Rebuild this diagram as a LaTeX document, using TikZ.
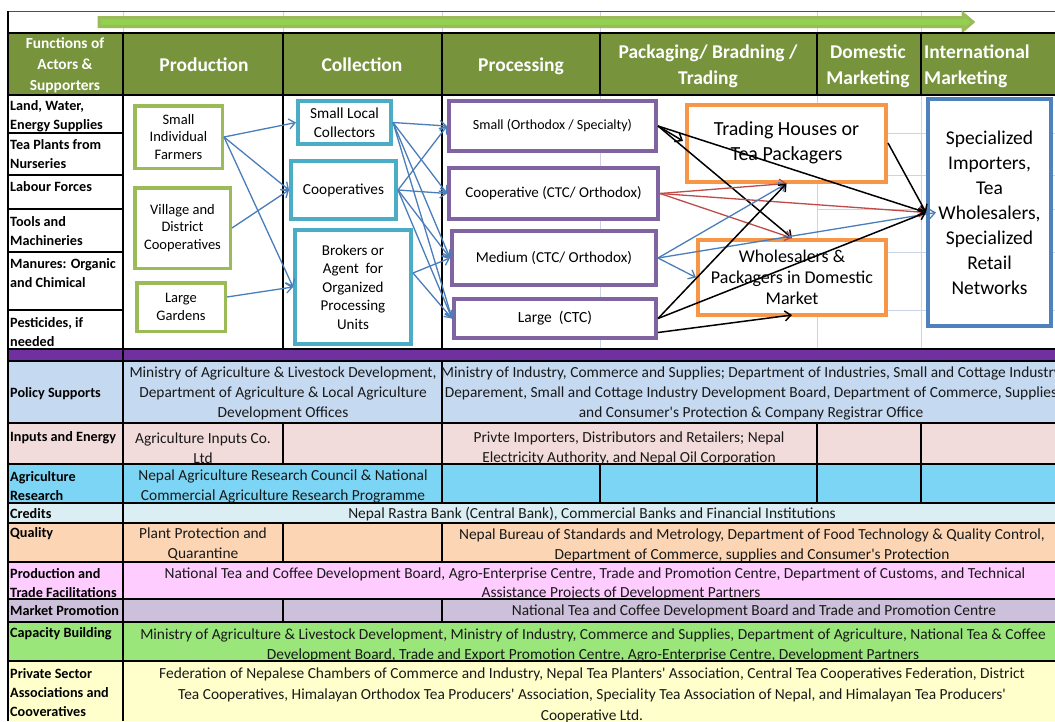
\documentclass[tikz,border=0pt]{standalone}
\usepackage{fontspec}
\setmainfont{Carlito}[Ligatures=TeXOff]
\usetikzlibrary{arrows.meta,calc}

\definecolor{hdrgreen}{HTML}{77933C}
\definecolor{barout}{HTML}{9BBB59}
\definecolor{barin}{HTML}{92D050}
\definecolor{prodg}{HTML}{9BBB59}
\definecolor{collt}{HTML}{4BACC6}
\definecolor{procp}{HTML}{8064A2}
\definecolor{packo}{HTML}{F79646}
\definecolor{intlb}{HTML}{4F81BD}
\definecolor{connb}{HTML}{4A7EBB}
\definecolor{connr}{HTML}{BE4B48}
\definecolor{bandp}{HTML}{7030A0}
\definecolor{gridc}{HTML}{C9D4E8}
\definecolor{fpolicy}{HTML}{C5D9F1}
\definecolor{finputs}{HTML}{F2DCDB}
\definecolor{fresearch}{HTML}{7DD5F5}
\definecolor{fcredit}{HTML}{DAEEF3}
\definecolor{fquality}{HTML}{FCD5B4}
\definecolor{ftrade}{HTML}{FFCCFF}
\definecolor{fmarket}{HTML}{CCC0DA}
\definecolor{fcapacity}{HTML}{9AE67A}
\definecolor{fprivate}{HTML}{FFFFCC}

\begin{document}
\begin{tikzpicture}[x=1pt,y=-1pt,
  faint/.style={draw=gridc,line width=0.7pt},
  rulel/.style={draw=black,line width=1.3pt},
  hdrtxt/.style={text=white,font=\bfseries\fontsize{19.5}{26}\selectfont,align=center,inner sep=0},
  lbl/.style={font=\bfseries\fontsize{14.2}{19}\selectfont,align=left,anchor=west,inner sep=0},
  cell/.style={font=\fontsize{15.4}{20}\selectfont,align=center,inner sep=0,text=black!90},
  pbox/.style={draw=prodg,line width=3.5pt,fill=white,align=center,inner sep=0,font=\fontsize{14.5}{17.5}\selectfont},
  cbox/.style={draw=collt,line width=4pt,fill=white,align=center,inner sep=0,font=\fontsize{15.3}{19}\selectfont},
  rbox/.style={draw=procp,line width=4pt,fill=white,align=center,inner sep=0},
  obox/.style={draw=packo,line width=4pt,fill=white,align=center,inner sep=0},
  ibox/.style={draw=intlb,line width=4pt,fill=white,align=center,inner sep=0,font=\fontsize{19.5}{25}\selectfont},
  conn/.style={line width=1.3pt,-{Straight Barb[length=6pt,width=10pt]}},
  fblue/.style={conn,draw=connb},
  fred/.style={conn,draw=connr},
  fblack/.style={conn,draw=black,line width=1.5pt}]
\useasboundingbox (0,0) rectangle (1055,721);
\clip (0,0) rectangle (1055,721);
\fill[white] (0,0) rectangle (1055,721);

% ---- faint sheet grid ----
\foreach \gx in {123,283,442,600,817,921} \draw[faint] (\gx,11) -- (\gx,33);
\foreach \gx in {600,817,921} \draw[faint] (\gx,95) -- (\gx,349);
\foreach \gy in {133,175,209,252,310} \draw[faint] (817,\gy) -- (1055,\gy);

% ---- top line and stage arrow ----
\draw[bandp,line width=0.8pt] (8,11) -- (1055,11);
\draw[fill=barin,draw=barout,line width=3pt,line join=miter]
  (99,17.5) -- (963,17.5) -- (963,13.5) -- (973,22) -- (963,30.5) -- (963,26.5) -- (99,26.5) -- cycle;

% ---- header row ----
\fill[hdrgreen] (8,33) rectangle (1055,95);
\node[hdrtxt,font=\bfseries\fontsize{15.4}{21}\selectfont] (hfun) at (65,65.5) {Functions of\\Actors \&\\Supporters};
\node[hdrtxt] (hprod) at (204,65) {Production};
\node[hdrtxt] (hcoll) at (362,65) {Collection};
\node[hdrtxt] (hproc) at (521,66) {Processing};
\node[hdrtxt] (hpack) at (708,66.5) {Packaging/ Bradning /\\Trading};
\node[hdrtxt] (hdom) at (868,66.5) {Domestic\\Marketing};
\node[hdrtxt,align=left,anchor=west] (hint) at (924,66.5) {International\\Marketing};

% ---- lower table fills ----
\fill[bandp] (8,349) rectangle (1055,361);
\fill[fpolicy] (8,361) rectangle (1055,423);
\fill[finputs] (8,423) rectangle (1055,464);
\fill[fresearch] (8,464) rectangle (1055,503);
\fill[fcredit] (8,503) rectangle (1055,523);
\fill[fquality] (8,523) rectangle (1055,562);
\fill[ftrade] (8,562) rectangle (1055,599);
\fill[fmarket] (8,599) rectangle (1055,622);
\fill[fcapacity] (8,622) rectangle (1055,661);
\fill[fprivate] (8,661) rectangle (1055,721);

% ---- table rules ----
\foreach \ry in {33,95,349,361,423,464,503,523,562,599,622,661} \draw[rulel] (8,\ry) -- (1055,\ry);
\foreach \ry in {133,175,209,252,310} \draw[rulel] (8,\ry) -- (123,\ry);
\draw[rulel] (8,11) -- (8,721);
\draw[rulel] (123,33) -- (123,721);
\foreach \vx in {283,442} \draw[rulel] (\vx,33) -- (\vx,349);
\foreach \vx in {600,817,921} \draw[rulel] (\vx,33) -- (\vx,95);
\draw[rulel] (442,361) -- (442,423);
\foreach \vx in {283,442,817,921} \draw[rulel] (\vx,423) -- (\vx,464);
\foreach \vx in {442,600,817,921} \draw[rulel] (\vx,464) -- (\vx,503);
\foreach \vx in {283,442} \draw[rulel] (\vx,523) -- (\vx,562);
\foreach \vx in {283,442} \draw[rulel] (\vx,599) -- (\vx,622);

% ---- row labels ----
\node[lbl] (l1) at (10,116.5) {Land, Water,\\Energy Supplies};
\node[lbl] (l2) at (10,154) {Tea Plants from\\Nurseries};
\node[lbl] (l3) at (10,186.5) {Labour Forces};
\node[lbl] (l4) at (10,231) {Tools and\\Machineries};
\node[lbl] (l5) at (10,273.5) {Manures: Organic\\and Chimical};
\node[lbl] (l6) at (10,332) {Pesticides, if\\needed};
\node[lbl] (r1) at (10,393.5) {Policy Supports};
\node[lbl] (r2) at (10,437.5) {Inputs and Energy};
\node[lbl] (r3) at (10,486) {Agriculture\\Research};
\node[lbl] (r4) at (10,513.5) {Credits};
\node[lbl] (r5) at (10,533.5) {Quality};
\node[lbl] (r6) at (10,583.5) {Production and\\Trade Facilitations};
\node[lbl] (r7) at (10,610.5) {Market Promotion};
\node[lbl] (r8) at (10,633.5) {Capacity Building};
\node[lbl] (r9) at (10,692.5) {Private Sector\\Associations and\\Cooveratives};

% ---- supporter cells ----
\node[cell] (pol1) at (283,393.5) {Ministry of Agriculture \& Livestock Development,\\Department of Agriculture \& Local Agriculture\\Development Offices};
\node[cell] (pol2) at (751,393.5) {Ministry of Industry, Commerce and Supplies; Department of Industries, Small and Cottage Industry\\Deparement, Small and Cottage Industry Development Board, Department of Commerce, Supplies\\and Consumer's Protection \& Company Registrar Office};
\node[cell] (inp1) at (203,448) {Agriculture Inputs Co.\\Ltd};
\node[cell] (inp2) at (629,448) {Privte Importers, Distributors and Retailers; Nepal\\Electricity Authority, and Nepal Oil Corporation};
\node[cell] (agr1) at (283,486) {Nepal Agriculture Research Council \& National\\Commercial Agriculture Research Programme};
\node[cell] (cred) at (592,514) {Nepal Rastra Bank (Central Bank), Commercial Banks and Financial Institutions};
\node[cell] (qua1) at (203,544.5) {Plant Protection and\\Quarantine};
\node[cell] (qua2) at (752,545.5) {Nepal Bureau of Standards and Metrology, Department of Food Technology \& Quality Control,\\Department of Commerce, supplies and Consumer's Protection};
\node[cell,font=\fontsize{15.4}{19}\selectfont] (trd1) at (595,583.5) {National Tea and Coffee Development Board, Agro-Enterprise Centre, Trade and Promotion Centre, Department of Customs, and Technical\\\hspace*{52pt}Assistance Projects of Development Partners};
\node[cell] (mkt1) at (754,611) {National Tea and Coffee Development Board and Trade and Promotion Centre};
\node[cell] (cap1) at (593,645.5) {Ministry of Agriculture \& Livestock Development, Ministry of Industry, Commerce and Supplies, Department of Agriculture, National Tea \& Coffee\\Development Board, Trade and Export Promotion Centre, Agro-Enterprise Centre, Development Partners};
\node[cell,font=\fontsize{15.4}{21}\selectfont] (prv1) at (592,695.5) {Federation of Nepalese Chambers of Commerce and Industry, Nepal Tea Planters' Association, Central Tea Cooperatives Federation, District\\Tea Cooperatives, Himalayan Orthodox Tea Producers' Association, Speciality Tea Association of Nepal, and Himalayan Tea Producers'\\Cooperative Ltd.};

% ---- actor boxes ----
\node[pbox,minimum width=87.5pt,minimum height=62.5pt] (sif) at (178.5,137) {Small\\Individual\\Farmers};
\node[pbox,minimum width=95.5pt,minimum height=80.5pt] (vdc) at (182.5,228) {Village and\\District\\Cooperatives};
\node[pbox,minimum width=88.5pt,minimum height=48.5pt] (lgd) at (181,307) {Large\\Gardens};

\node[cbox,minimum width=93pt,minimum height=43pt] (slc) at (344.5,122.5) {Small Local\\Collectors};
\node[cbox,minimum width=105pt,minimum height=58pt] (coc) at (343.5,190) {Cooperatives};
\node[cbox,minimum width=116pt,minimum height=114pt,font=\fontsize{15}{18.5}\selectfont] (brk) at (353,287) {Brokers or\\Agent\ \ for\\Organized\\Processing\\Units};

\node[rbox,minimum width=207pt,minimum height=50pt,font=\fontsize{14}{17}\selectfont] (smp) at (552.5,126) {Small (Orthodox / Specialty)};
\node[rbox,minimum width=209pt,minimum height=51pt,font=\fontsize{15}{17}\selectfont] (cop) at (553.5,193.5) {Cooperative (CTC/ Orthodox)};
\node[rbox,minimum width=204pt,minimum height=54pt,font=\fontsize{15.2}{17}\selectfont] (mdp) at (554,258) {Medium (CTC/ Orthodox)};
\node[rbox,minimum width=202pt,minimum height=39pt,font=\fontsize{15.5}{17}\selectfont] (lgp) at (555,318.5) {Large\ \ (CTC)};

\node[obox,minimum width=199pt,minimum height=77pt,font=\fontsize{20}{25}\selectfont] (trh) at (786.5,143) {Trading Houses\ or\\Tea Packagers};
\node[obox,minimum width=188pt,minimum height=75pt,font=\fontsize{18}{21}\selectfont] (whl) at (792,277.5) {Wholesalers \&\\Packagers in Domestic\\Market};

\node[ibox,minimum width=123pt,minimum height=227pt] (itl) at (989.5,212.5) {Specialized\\Importers,\\Tea\\Wholesalers,\\Specialized\\Retail\\Networks};

% ---- production to collection ----
\draw[fblue] (sif.east) -- (slc.west);
\draw[fblue] (sif.east) -- (coc.west);
\draw[fblue] (sif.east) -- (brk.west);
\draw[fblue] (vdc.east) -- (coc.west);
\draw[fblue] ($(lgd.east)+(0,-10)$) -- (brk.west);

% ---- collection to processing ----
\foreach \dst in {smp,cop,mdp,lgp} {
  \draw[fblue] (slc.east) -- (\dst.west);
  \draw[fblue] (coc.east) -- (\dst.west);
}
\draw[fblue] ($(brk.east)+(0,-14)$) -- (mdp.west);
\draw[fblue] ($(brk.east)+(0,-14)$) -- (lgp.west);

% ---- processing to trade and markets ----
\draw[fblack] (smp.east) -- ($(trh.west)+(-2,-2)$);
\draw[fblack] (smp.east) -- (whl.north);
\draw[fblack] (smp.east) -- (itl.west);
\draw[fred] (cop.east) -- (trh.south);
\draw[fred] (cop.east) -- (itl.west);
\draw[fred] (cop.east) -- (whl.north);
\draw[fblue] (mdp.east) -- (trh.south);
\draw[fblue] (mdp.east) -- ($(itl.west)+(10,0)$);
\draw[fblue] (mdp.east) -- (whl.west);
\draw[fblack] (lgp.east) -- (trh.south);
\draw[fblack] (lgp.east) -- (itl.west);
\draw[fblack] ($(lgp.east)+(0,14)$) -- ($(whl.south)+(0,-2)$);
\draw[fblack] (trh.east) -- (itl.west);
\end{tikzpicture}
\end{document}
